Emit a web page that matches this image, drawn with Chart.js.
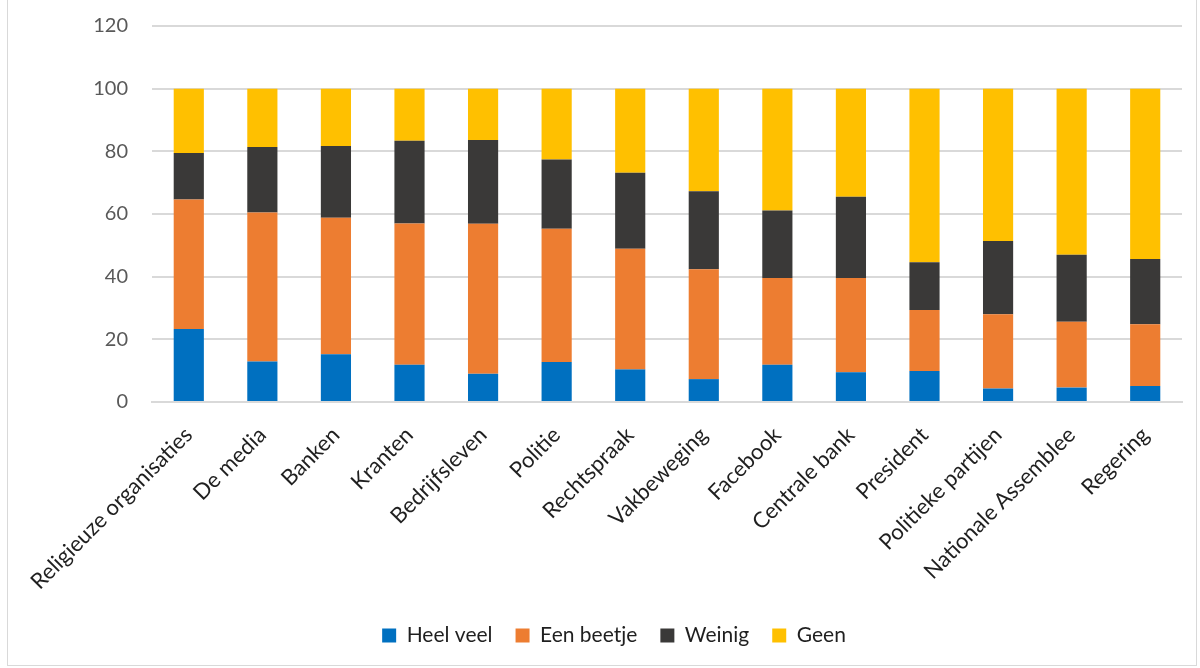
<!DOCTYPE html>
<html>
<head>
<meta charset="utf-8">
<script src="https://cdn.jsdelivr.net/npm/chart.js@4"></script>
<style>
  html, body { margin: 0; padding: 0; background: #fff; }
  #wrap { position: absolute; left: 7px; top: -2px; width: 1190px; height: 668px; box-sizing: border-box; border: 1px solid #d9d9d9; }
  canvas { display: block; }
</style>
</head>
<body>
<div id="wrap"><canvas id="chart"></canvas></div>
<script>
// categories and series
const categories = [
    'Religieuze organisaties', 'De media', 'Banken', 'Kranten', 'Bedrijfsleven',
    'Politie', 'Rechtspraak', 'Vakbeweging', 'Facebook', 'Centrale bank',
    'President', 'Politieke partijen', 'Nationale Assemblee', 'Regering'
];
const heelVeel  = [23.3, 12.9, 15.2, 11.9, 9.0, 12.8, 10.4, 7.3, 11.9, 9.5, 9.9, 4.3, 4.6, 5.1];
const eenBeetje = [41.3, 47.6, 43.6, 45.1, 47.9, 42.5, 38.5, 35.1, 27.7, 30.1, 19.5, 23.7, 21.0, 19.7];
const weinig    = [14.9, 20.9, 22.9, 26.4, 26.7, 22.1, 24.3, 24.9, 21.5, 25.9, 15.2, 23.4, 21.4, 20.8];
const geen      = [20.5, 18.6, 18.3, 16.6, 16.4, 22.6, 26.8, 32.7, 38.9, 34.5, 55.4, 48.6, 53.0, 54.4];
const yTicks = [0, 20, 40, 60, 80, 100, 120];

const textColor = '#595959';
const darkText = '#1f1f1f';
const gridColor = '#d9d9d9';
const family = 'Lato, "Open Sans", sans-serif';

function series(label, values, color) {
    return {
        label: label,
        data: values,
        backgroundColor: color,
        borderWidth: 0,
        barPercentage: 0.41,
        categoryPercentage: 1.0
    };
}

const ctx = document.getElementById('chart').getContext('2d');
new Chart(ctx, {
    type: 'bar',
    data: {
        labels: categories,
        datasets: [
            series('Heel veel', heelVeel, '#0070c0'),
            series('Een beetje', eenBeetje, '#ed7d31'),
            series('Weinig', weinig, '#3a3938'),
            series('Geen', geen, '#ffc000')
        ]
    },
    options: {
        responsive: true,
        maintainAspectRatio: false,
        animation: false,
        // left padding nudges the legend to the right like in the original
        layout: { padding: { top: 27, right: 14, bottom: 9, left: 38 } },
        plugins: {
            legend: {
                position: 'bottom',
                labels: {
                    color: darkText,
                    font: { family: family, size: 21 },
                    boxWidth: 14,
                    boxHeight: 14,
                    padding: 23
                }
            },
            tooltip: { enabled: false }
        },
        scales: {
            x: {
                stacked: true,
                grid: { display: false },
                border: { color: gridColor, width: 2 },
                afterFit: axis => {
                    axis.height = 200;
                    axis.paddingLeft = 0;
                    axis.paddingRight = 0;
                },
                ticks: {
                    color: darkText,
                    font: { family: family, size: 22 },
                    minRotation: 45,
                    maxRotation: 45,
                    autoSkip: false,
                    padding: 12
                }
            },
            y: {
                stacked: true,
                min: 0,
                max: 120,
                afterBuildTicks: axis => { axis.ticks = yTicks.map(v => ({ value: v })); },
                afterFit: axis => {
                    axis.width = 106;
                    axis.paddingTop = 0;
                    axis.paddingBottom = 0;
                },
                grid: { color: gridColor, lineWidth: 2, drawTicks: false },
                border: { display: false },
                ticks: {
                    color: textColor,
                    font: { family: family, size: 20 },
                    padding: 24
                }
            }
        }
    }
});
</script>
</body>
</html>
